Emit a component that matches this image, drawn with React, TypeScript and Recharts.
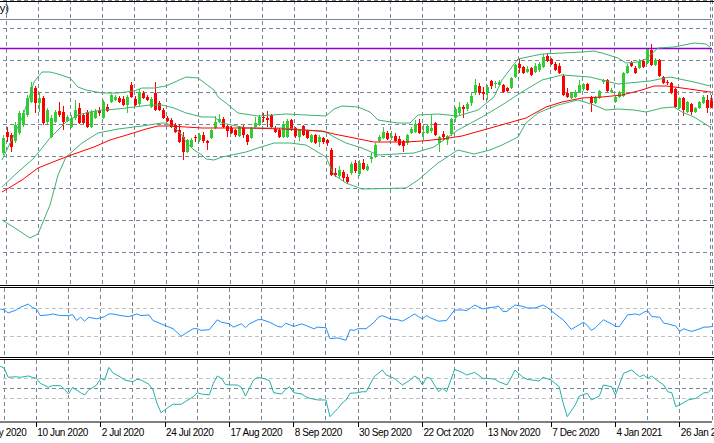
import React from 'react';
import { ComposedChart, Bar, Line, XAxis, YAxis, CartesianGrid, ReferenceLine } from 'recharts';

// daily candles, prices in points (11470 = 1.1470), bar 0 is the first visible day
const opens = [
  11470, 11680, 11650, 11590, 11670, 11750, 11850, 11980, 12120, 11970,
  12020, 11780, 11630, 11780, 11890, 11880, 11790, 11730, 11820, 11920,
  11850, 11880, 11730, 11820, 11900, 11820, 11930, 11980, 12000, 12020,
  12010, 11950, 12150, 12010, 11960, 12070, 12030, 11930, 12070, 11970,
  11900, 11820, 11800, 11750, 11700, 11630, 11480, 11530, 11630, 11600,
  11650, 11590, 11620, 11720, 11780, 11810, 11740, 11720, 11700, 11640,
  11730, 11650, 11620, 11730, 11750, 11830, 11820, 11850, 11710, 11700,
  11630, 11630, 11800, 11720, 11630, 11740, 11690, 11580, 11650, 11580,
  11620, 11600, 11500, 11270, 11240, 11280, 11230, 11270, 11370, 11260,
  11370, 11300, 11410, 11430, 11590, 11620, 11670, 11620, 11640, 11610,
  11590, 11570, 11670, 11680, 11770, 11670, 11670, 11690, 11770, 11570,
  11660, 11600, 11660, 11820, 11870, 11930, 11910, 11970, 12070, 12140,
  12080, 12070, 12190, 12160, 12150, 12150, 12120, 12120, 12230, 12360,
  12330, 12280, 12320, 12280, 12300, 12330, 12440, 12410, 12360, 12340,
  12240, 12070, 12020, 12030, 12080, 12110, 12160, 12020, 11970, 12020,
  12180, 12200, 12080, 11980, 12030, 12040, 12270, 12370, 12320, 12320,
  12390, 12370, 12500, 12350, 12400, 12230, 12180, 12170, 12110, 11920,
  12020, 11880, 11960, 11880, 11920, 11970, 12000, 11990,
];
const highs = [
  11650, 11730, 11670, 11780, 11890, 11900, 12050, 12180, 12140, 12080,
  12040, 11920, 11850, 11900, 11980, 11940, 11850, 11850, 12000, 11970,
  11870, 11900, 11900, 11910, 11930, 12000, 11960, 12060, 12050, 12040,
  12040, 12050, 12180, 12040, 12110, 12090, 12050, 12030, 12180, 11990,
  11920, 11840, 11820, 11770, 11760, 11680, 11610, 11620, 11650, 11670,
  11680, 11600, 11710, 11840, 11860, 11830, 11750, 11740, 11710, 11740,
  11750, 11660, 11730, 11830, 11850, 11870, 11890, 11860, 11740, 11720,
  11790, 11810, 11810, 11730, 11710, 11750, 11700, 11660, 11660, 11650,
  11630, 11610, 11520, 11320, 11340, 11300, 11260, 11380, 11400, 11400,
  11410, 11360, 11470, 11570, 11650, 11730, 11690, 11690, 11670, 11640,
  11600, 11660, 11730, 11800, 11810, 11750, 11760, 11850, 11780, 11640,
  11690, 11650, 11820, 11930, 11980, 11950, 11980, 12080, 12210, 12170,
  12130, 12150, 12200, 12190, 12200, 12160, 12130, 12230, 12360, 12410,
  12340, 12340, 12330, 12370, 12380, 12460, 12470, 12420, 12380, 12370,
  12260, 12120, 12080, 12100, 12200, 12170, 12170, 12040, 12040, 12100,
  12210, 12210, 12120, 12040, 12090, 12280, 12360, 12390, 12340, 12410,
  12410, 12520, 12560, 12420, 12410, 12240, 12200, 12180, 12120, 12030,
  12030, 11990, 11970, 11930, 11990, 12050, 12050, 12050,
];
const lows = [
  11450, 11580, 11480, 11570, 11650, 11730, 11830, 11970, 11870, 11880,
  11750, 11760, 11620, 11770, 11830, 11700, 11780, 11720, 11800, 11760,
  11760, 11720, 11720, 11810, 11840, 11810, 11880, 11970, 11990, 11970,
  11940, 11870, 12020, 11940, 11940, 12010, 11990, 11920, 11890, 11890,
  11810, 11780, 11720, 11670, 11570, 11400, 11470, 11520, 11580, 11580,
  11570, 11500, 11610, 11710, 11770, 11720, 11630, 11660, 11630, 11630,
  11620, 11550, 11610, 11720, 11740, 11780, 11730, 11720, 11670, 11620,
  11620, 11620, 11690, 11620, 11590, 11640, 11610, 11570, 11560, 11530,
  11560, 11540, 11240, 11230, 11220, 11190, 11160, 11250, 11270, 11240,
  11300, 11290, 11370, 11420, 11580, 11610, 11600, 11600, 11580, 11540,
  11480, 11550, 11660, 11670, 11660, 11600, 11660, 11670, 11640, 11480,
  11600, 11550, 11640, 11780, 11850, 11820, 11890, 11940, 12050, 12050,
  12000, 12000, 12110, 12120, 12140, 12070, 12080, 12110, 12220, 12270,
  12260, 12270, 12240, 12270, 12280, 12320, 12380, 12350, 12290, 12260,
  12040, 12020, 12010, 12020, 12070, 12090, 12090, 11880, 11960, 12010,
  12160, 12080, 12070, 11970, 12020, 12030, 12260, 12330, 12260, 12310,
  12320, 12360, 12340, 12340, 12230, 12160, 12150, 12060, 11920, 11910,
  11840, 11870, 11850, 11870, 11910, 11960, 11870, 11920,
];
const closes = [
  11620, 11630, 11530, 11750, 11870, 11870, 12020, 12130, 11970, 12020,
  11770, 11900, 11820, 11880, 11850, 11780, 11830, 11820, 11900, 11770,
  11770, 11730, 11880, 11890, 11870, 11980, 11890, 12050, 12030, 11980,
  11950, 12030, 12030, 11950, 12080, 12020, 12000, 12010, 11900, 11900,
  11820, 11790, 11730, 11680, 11580, 11480, 11600, 11600, 11620, 11650,
  11590, 11570, 11700, 11780, 11810, 11730, 11690, 11670, 11650, 11730,
  11650, 11580, 11720, 11770, 11830, 11820, 11800, 11730, 11680, 11630,
  11760, 11790, 11700, 11640, 11700, 11650, 11620, 11650, 11570, 11630,
  11580, 11570, 11250, 11250, 11300, 11220, 11180, 11360, 11290, 11370,
  11310, 11340, 11430, 11550, 11630, 11680, 11610, 11640, 11590, 11550,
  11540, 11650, 11710, 11760, 11670, 11680, 11740, 11720, 11650, 11630,
  11630, 11640, 11810, 11910, 11930, 11910, 11960, 12040, 12150, 12070,
  12060, 12130, 12140, 12170, 12180, 12080, 12090, 12220, 12350, 12320,
  12270, 12310, 12250, 12340, 12360, 12430, 12390, 12360, 12300, 12270,
  12050, 12030, 12070, 12080, 12150, 12160, 12100, 11970, 12030, 12090,
  12200, 12090, 12100, 12030, 12080, 12270, 12340, 12340, 12270, 12390,
  12330, 12510, 12350, 12400, 12240, 12170, 12170, 12070, 11930, 12020,
  11900, 11980, 11880, 11920, 11980, 12030, 11920, 11930,
];

// indicator readings as [bar, value]
const bbUpper: [number, number][] = [
  [0, 11400], [3, 11650], [5, 11820], [7, 12050], [8, 12180], [10, 12280], [12, 12280], [14, 12260],
  [17, 12220], [19, 12130], [21, 12100], [25, 12070], [29, 12070], [33, 12090], [35, 12120], [38, 12120],
  [41, 12140], [46, 12230], [49, 12220], [51, 12160], [53, 12100], [54, 12030], [56, 11970], [59, 11870],
  [64, 11840], [71, 11860], [81, 11840], [83, 11910], [85, 11940], [89, 11930], [92, 11880], [94, 11800],
  [99, 11770], [102, 11770], [104, 11850], [109, 11860], [114, 11840], [119, 11900], [123, 12030],
  [125, 12200], [129, 12410], [135, 12460], [140, 12470], [145, 12480], [148, 12490], [150, 12470],
  [154, 12420], [156, 12370], [159, 12380], [161, 12410], [164, 12520], [168, 12530], [173, 12570],
  [176, 12560], [177, 12530],
];
const bbMiddle: [number, number][] = [
  [0, 11130], [4, 11280], [8, 11420], [12, 11620], [14, 11700], [16, 11780], [19, 11850], [22, 11880],
  [25, 11900], [29, 11910], [33, 11930], [37, 11950], [40, 11950], [43, 11920], [46, 11870], [50, 11830],
  [53, 11830], [55, 11770], [61, 11720], [70, 11720], [76, 11700], [81, 11680], [83, 11630], [86, 11570],
  [90, 11520], [94, 11450], [103, 11470], [108, 11530], [114, 11700], [120, 11830], [125, 11950],
  [130, 12080], [135, 12200], [140, 12250], [147, 12230], [154, 12160], [162, 12190], [167, 12230],
  [173, 12180], [177, 12140],
];
const bbLower: [number, number][] = [
  [0, 10800], [4, 10700], [7, 10620], [9, 10660], [12, 10950], [14, 11250], [16, 11430], [18, 11500],
  [20, 11570], [24, 11670], [29, 11710], [35, 11740], [40, 11770], [41, 11770], [43, 11730], [45, 11650],
  [46, 11580], [48, 11500], [50, 11450], [51, 11410], [53, 11400], [55, 11430], [61, 11480], [64, 11520],
  [68, 11570], [72, 11570], [76, 11550], [81, 11430], [83, 11250], [86, 11170], [90, 11110], [101, 11120],
  [104, 11200], [109, 11370], [114, 11500], [118, 11460], [122, 11500], [125, 11550], [129, 11630],
  [131, 11770], [134, 11870], [137, 11920], [139, 11950], [144, 12000], [148, 11950], [151, 11900],
  [154, 11910], [158, 11900], [161, 11880], [165, 11920], [168, 11930], [170, 11880], [173, 11830],
  [177, 11730],
];
const movingAvg: [number, number][] = [
  [0, 11080], [5, 11200], [9, 11320], [14, 11400], [18, 11460], [23, 11530], [27, 11600], [32, 11660],
  [36, 11710], [39, 11740], [42, 11740], [46, 11730], [50, 11720], [55, 11720], [62, 11720], [70, 11710],
  [80, 11690], [83, 11660], [88, 11620], [93, 11580], [101, 11580], [105, 11590], [110, 11610],
  [115, 11640], [123, 11730], [131, 11820], [136, 11930], [140, 11980], [145, 12020], [150, 12030],
  [155, 12050], [160, 12100], [163, 12140], [166, 12140], [170, 12120], [177, 12080],
];
const rsi: [number, number][] = [
  [0, 69.6], [1, 68.1], [2, 63.9], [4, 68.1], [5, 71.9], [7, 76.7], [8, 71.9], [9, 69.6], [10, 60], [12, 61],
  [13, 62.4], [15, 60], [17, 60], [18, 61.4], [19, 52.9], [20, 57.6], [21, 51.9], [22, 57.6], [24, 55.3],
  [26, 58.6], [27, 62.4], [28, 62.4], [30, 60], [32, 58.6], [34, 62.4], [35, 60], [37, 61], [38, 52.9],
  [40, 48.1], [41, 45.7], [43, 41], [45, 30], [46, 33.9], [48, 41], [49, 41], [50, 38.6], [52, 39.6],
  [54, 53.9], [55, 50.4], [57, 48.1], [58, 43.3], [60, 48.1], [61, 42.4], [62, 48.1], [64, 53.9],
  [65, 54.3], [67, 50.4], [69, 44.3], [70, 43.3], [71, 49], [73, 44.3], [75, 48.1], [76, 45.7], [78, 41],
  [79, 43.3], [81, 42.4], [82, 26.7], [84, 27.6], [86, 24.3], [87, 39.6], [88, 38.6], [89, 41], [91, 41],
  [93, 50.4], [94, 57.6], [95, 60], [97, 55.3], [99, 53.9], [100, 51.9], [102, 58.6], [103, 62.4],
  [104, 58.6], [105, 55.3], [106, 60], [107, 56.7], [109, 51.9], [111, 52.9], [113, 68.1], [115, 68.1],
  [116, 67.1], [118, 75.3], [120, 69.6], [121, 71], [124, 73.3], [125, 66.1], [126, 66.1], [128, 75.3],
  [130, 73.3], [131, 71], [133, 71], [135, 75.3], [136, 71.9], [138, 62.4], [140, 53.9], [142, 40],
  [143, 43.3], [145, 50.4], [146, 45.7], [147, 38.6], [148, 42.4], [150, 53.9], [152, 48.1], [153, 44.3],
  [154, 44.3], [156, 61], [158, 62.4], [159, 61], [160, 64.7], [161, 67.1], [162, 58.6], [164, 57.6],
  [165, 49], [166, 48.1], [168, 44.7], [169, 37.1], [170, 41], [171, 38.6], [172, 37.1], [174, 41],
  [175, 43.3], [176, 43.3], [177, 44.3],
];
const cci: [number, number][] = [
  [0, 229], [1, 206], [2, 114], [4, 120], [5, 114], [7, 128], [8, 114], [9, 104], [10, 53], [12, 12],
  [13, 29], [15, 29], [16, -8], [17, -56], [18, 12], [20, -43], [21, -66], [22, -15], [24, 36], [25, 104],
  [26, 87], [27, 216], [28, 161], [30, 114], [31, 87], [33, 69], [34, 94], [35, 87], [37, 43], [38, -15],
  [39, -151], [40, -247], [42, -186], [43, -161], [45, -161], [46, -135], [48, -84], [49, -43], [50, -56],
  [52, -66], [53, 53], [54, 128], [55, 104], [56, 43], [57, 36], [59, 36], [60, 12], [61, -77], [63, 87],
  [64, 114], [66, 97], [67, 77], [68, -43], [70, -56], [71, -8], [72, 18], [73, -43], [75, -56], [76, -84],
  [77, -100], [79, -117], [81, -117], [82, -288], [84, -202], [85, -151], [86, -117], [87, -49], [89, -43],
  [90, -33], [91, -33], [93, 120], [95, 189], [96, 138], [98, 104], [100, 36], [102, 87], [103, 128],
  [104, 104], [105, 36], [106, 114], [107, 104], [109, -33], [110, 2], [111, -33], [113, 196], [115, 161],
  [116, 138], [118, 165], [120, 104], [121, 104], [123, 94], [124, 69], [126, 36], [127, 104], [128, 189],
  [130, 114], [131, 94], [134, 77], [135, 114], [137, 87], [139, 18], [140, -151], [141, -288],
  [143, -168], [144, -77], [146, -49], [147, -117], [149, -77], [150, 36], [152, 18], [153, -66],
  [155, 155], [157, 189], [159, 120], [160, 138], [161, 104], [162, 128], [163, 94], [165, 36],
  [166, -33], [167, -43], [168, -186], [170, -145], [171, -117], [173, -100], [175, -43], [176, -43],
  [177, 2],
];

const dateLabels: [number, string][] = [
  [-7, '19 May 2020'], [9, '10 Jun 2020'], [25, '2 Jul 2020'], [41, '24 Jul 2020'],
  [57, '17 Aug 2020'], [73, '8 Sep 2020'], [89, '30 Sep 2020'], [105, '22 Oct 2020'],
  [121, '13 Nov 2020'], [137, '7 Dec 2020'], [153, '4 Jan 2021'], [169, '26 Jan 2021'],
];
const priceGrid = [12720, 12400, 12080, 11760, 11440, 11120, 10800, 10480];
const resistance = 12515;
const topLevel = 12805;

const FIRST = -8;
const LAST = 177;

const rows: any[] = [];
for (let i = FIRST; i <= LAST; i++) {
  rows.push({
    i,
    open: opens[i] ?? null,
    high: highs[i] ?? null,
    low: lows[i] ?? null,
    close: closes[i] ?? null,
  });
}
const put = (list: [number, number][], key: string) => {
  list.forEach(([i, v]) => {
    rows[i - FIRST][key] = v;
  });
};
put(bbUpper, 'up');
put(bbMiddle, 'mid');
put(bbLower, 'lo');
put(movingAvg, 'ma');
put(rsi, 'rsi');
put(cci, 'cci');

const gridTicks: number[] = [];
for (let i = -7; i <= LAST; i += 8) gridTicks.push(i);
const labelMap = new Map(dateLabels);

const GRID = '#778899';
const CHART_W = 746;
const shift = { position: 'absolute' as const, left: -32 };

const Candle = (props: any) => {
  const { x, y, width, height, payload } = props;
  if (!payload || payload.high == null || !height) return null;
  const { open, close, high, low } = payload;
  const top = Math.min(y, y + height);
  const span = Math.abs(height);
  const k = span / (high - low);
  const yo = top + (high - open) * k;
  const yc = top + (high - close) * k;
  const color = close >= open ? '#32CD32' : '#FF0000';
  const cx = Math.round(x + width / 2);
  return (
    <g shapeRendering="crispEdges">
      <rect x={cx} y={top} width={1} height={span} fill={color} />
      <rect x={cx - 1} y={Math.min(yo, yc)} width={3} height={Math.max(Math.abs(yc - yo), 1)} fill={color} />
    </g>
  );
};

const DateTick = (props: any) => {
  const { x, y, payload } = props;
  const label = labelMap.get(payload.value);
  if (!label) return <g />;
  return (
    <g>
      <line x1={x} x2={x} y1={y} y2={y + 5} stroke="#000" shapeRendering="crispEdges" />
      <text x={x + 1} y={y + 14} fontSize={10} fill="#000" textAnchor="start"
        style={{ fontFamily: '"Liberation Sans", Arial, sans-serif', letterSpacing: '-0.4px' }}>
        {label}
      </text>
    </g>
  );
};

const line = (key: string, color: string) => (
  <Line dataKey={key} stroke={color} strokeWidth={1} dot={false} activeDot={false}
    connectNulls isAnimationActive={false} type="linear" />
);

const bar = (top: number) => (
  <div style={{ position: 'absolute', left: 0, top, width: 714, height: 1, background: '#000' }} />
);

export default function App() {
  return (
    <div style={{ position: 'absolute', left: 0, top: 0, width: 714, height: 443, overflow: 'hidden',
      background: '#fff', fontFamily: '"Liberation Sans", Arial, sans-serif' }}>
      <div style={shift}>
        <ComposedChart width={CHART_W} height={285} data={rows} margin={{ top: 0, right: 2, bottom: 0, left: 0 }}>
          <XAxis dataKey="i" hide ticks={gridTicks} interval={0} />
          <YAxis hide domain={[10150, 13000]} ticks={priceGrid} allowDataOverflow />
          <CartesianGrid stroke={GRID} strokeDasharray="4 3" shapeRendering="crispEdges" />
          <ReferenceLine y={topLevel} stroke={GRID} shapeRendering="crispEdges" />
          <ReferenceLine y={resistance} stroke="#9400D3" strokeWidth={1.3} />
          <Bar dataKey={(d: any) => (d.high == null ? null : [d.low, d.high])} shape={Candle}
            barSize={3} isAnimationActive={false} />
          {line('up', '#3CB371')}
          {line('mid', '#3CB371')}
          {line('lo', '#3CB371')}
          {line('ma', '#FF0000')}
        </ComposedChart>
      </div>
      <div style={{ ...shift, top: 288 }}>
        <ComposedChart width={CHART_W} height={69} data={rows} margin={{ top: 0, right: 2, bottom: 0, left: 0 }}>
          <XAxis dataKey="i" hide ticks={gridTicks} interval={0} />
          <YAxis hide domain={[0, 100]} />
          <CartesianGrid stroke={GRID} strokeDasharray="4 3" horizontal={false} shapeRendering="crispEdges" />
          <ReferenceLine y={70} stroke="#C0C0C0" strokeDasharray="4 3" shapeRendering="crispEdges" />
          <ReferenceLine y={30} stroke="#C0C0C0" strokeDasharray="4 3" shapeRendering="crispEdges" />
          {line('rsi', '#1E90FF')}
        </ComposedChart>
      </div>
      <div style={{ ...shift, top: 360 }}>
        <ComposedChart width={CHART_W} height={83} data={rows} margin={{ top: 0, right: 2, bottom: 0, left: 0 }}>
          <XAxis dataKey="i" ticks={gridTicks} interval={0} height={21} tickLine={false} tickSize={0}
            tickMargin={0} axisLine={{ stroke: '#000' }} tick={(p: any) => <DateTick {...p} />} />
          <YAxis hide domain={[-342, 291]} allowDataOverflow />
          <CartesianGrid stroke={GRID} strokeDasharray="4 3" horizontal={false} shapeRendering="crispEdges" />
          <ReferenceLine y={100} stroke="#C0C0C0" strokeDasharray="4 3" shapeRendering="crispEdges" />
          <ReferenceLine y={0} stroke={GRID} strokeDasharray="4 3" shapeRendering="crispEdges" />
          <ReferenceLine y={-100} stroke="#C0C0C0" strokeDasharray="4 3" shapeRendering="crispEdges" />
          {line('cci', '#20B2AA')}
        </ComposedChart>
      </div>
      {bar(1)}
      {bar(285)}
      {bar(287)}
      {bar(357)}
      {bar(359)}
      <div style={{ position: 'absolute', top: 2, right: 705, fontSize: 11, whiteSpace: 'nowrap', color: '#000' }}>
        (Daily)
      </div>
    </div>
  );
}
